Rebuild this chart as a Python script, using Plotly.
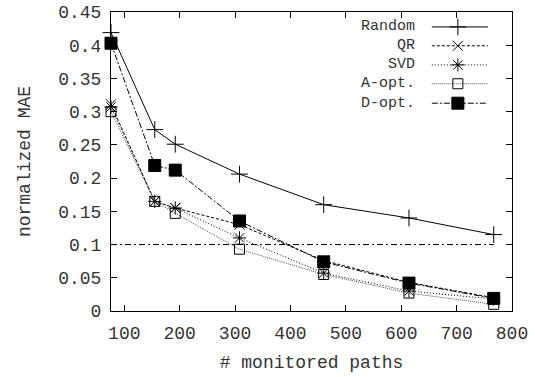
import plotly.graph_objects as go

paths = [76, 155, 192, 308, 460, 614, 767]
random_mae = [0.419, 0.273, 0.251, 0.206, 0.160, 0.140, 0.115]
qr_mae = [0.311, 0.165, 0.155, 0.130, 0.076, 0.043, 0.020]
svd_mae = [0.307, 0.165, 0.155, 0.110, 0.057, 0.030, 0.018]
aopt_mae = [0.300, 0.165, 0.147, 0.093, 0.055, 0.027, 0.010]
dopt_mae = [0.403, 0.219, 0.212, 0.1355, 0.074, 0.042, 0.019]
threshold = 0.1

series_names = ["Random", "QR", "SVD", "A-opt.", "D-opt."]
series_vals = [random_mae, qr_mae, svd_mae, aopt_mae, dopt_mae]
dashes = ["solid", "3px,2px", "1px,2px", "1px,1px", "6px,2px,2px,2px"]
symbols = ["cross-thin-open", "x-thin-open", "asterisk-open", "square-open", "square"]
sizes = [12, 10, 11, 10, 12]
lcolors = ["black", "black", "black", "#555555", "black"]

FONT = "Liberation Mono, DejaVu Sans Mono, monospace"
TXT = "#333333"
FS = 18
LFS = 15

fig = go.Figure()

# threshold line
fig.add_trace(go.Scatter(x=[paths[0], paths[-1]], y=[threshold, threshold], mode="lines",
                         line=dict(color="black", width=1, dash="6px,3px,2px,3px"),
                         showlegend=False, hoverinfo="skip"))

for name, vals, d, s, sz, lc in zip(series_names, series_vals, dashes, symbols, sizes, lcolors):
    fig.add_trace(go.Scatter(x=paths, y=vals, mode="lines+markers", name=name,
                             line=dict(color=lc, width=1, dash=d),
                             marker=dict(symbol=s, size=sz, color="black",
                                         line=dict(color="black", width=1)),
                             showlegend=False, cliponaxis=False))

# manual gnuplot-style legend (text then sample) on an overlay axis
leg_y = [0.95, 0.887, 0.823, 0.76, 0.695]
for name, d, s, sz, lc, ly in zip(series_names, dashes, symbols, sizes, lcolors, leg_y):
    fig.add_trace(go.Scatter(x=[0.8, 0.94], y=[ly, ly], mode="lines", xaxis="x2", yaxis="y2",
                             line=dict(color=lc, width=1, dash=d), showlegend=False, hoverinfo="skip"))
    fig.add_trace(go.Scatter(x=[0.865], y=[ly], mode="markers", xaxis="x2", yaxis="y2",
                             marker=dict(symbol=s, size=sz, color="black", line=dict(color="black", width=1)),
                             showlegend=False, hoverinfo="skip"))
    fig.add_annotation(x=0.76, y=ly, xref="x2", yref="y2", text=name, showarrow=False,
                       xanchor="right", yanchor="middle", borderpad=0,
                       font=dict(family=FONT, size=LFS, color=TXT))

fig.update_layout(
    width=535, height=377,
    margin=dict(l=111, r=23, t=12, b=66),
    paper_bgcolor="white", plot_bgcolor="white",
    font=dict(family=FONT, size=FS, color=TXT),
    xaxis=dict(range=[76, 800], tickmode="array", tickvals=[100, 200, 300, 400, 500, 600, 700, 800],
               ticks="inside", ticklen=6, tickcolor="black", showline=True, linecolor="black",
               linewidth=1, mirror="ticks", showgrid=False, zeroline=False, ticklabelstandoff=5,
               automargin=False,
               tickfont=dict(family=FONT, size=FS, color=TXT),
               title=dict(text="# monitored paths", standoff=12, font=dict(family=FONT, size=FS, color=TXT))),
    yaxis=dict(range=[0, 0.45], tickmode="array",
               tickvals=[0, 0.05, 0.1, 0.15, 0.2, 0.25, 0.3, 0.35, 0.4, 0.45],
               ticktext=["0", "0.05", "0.1", "0.15", "0.2", "0.25", "0.3", "0.35", "0.4", "0.45"],
               ticks="inside", ticklen=6, tickcolor="black", showline=True, linecolor="black",
               linewidth=1, mirror="ticks", showgrid=False, zeroline=False, ticklabelstandoff=5,
               automargin=False,
               tickfont=dict(family=FONT, size=FS, color=TXT),
               title=dict(text="normalized MAE", standoff=22, font=dict(family=FONT, size=FS, color=TXT))),
    xaxis2=dict(range=[0, 1], overlaying="x", visible=False, fixedrange=True),
    yaxis2=dict(range=[0, 1], overlaying="y", visible=False, fixedrange=True),
)

fig.write_html("out.html")
